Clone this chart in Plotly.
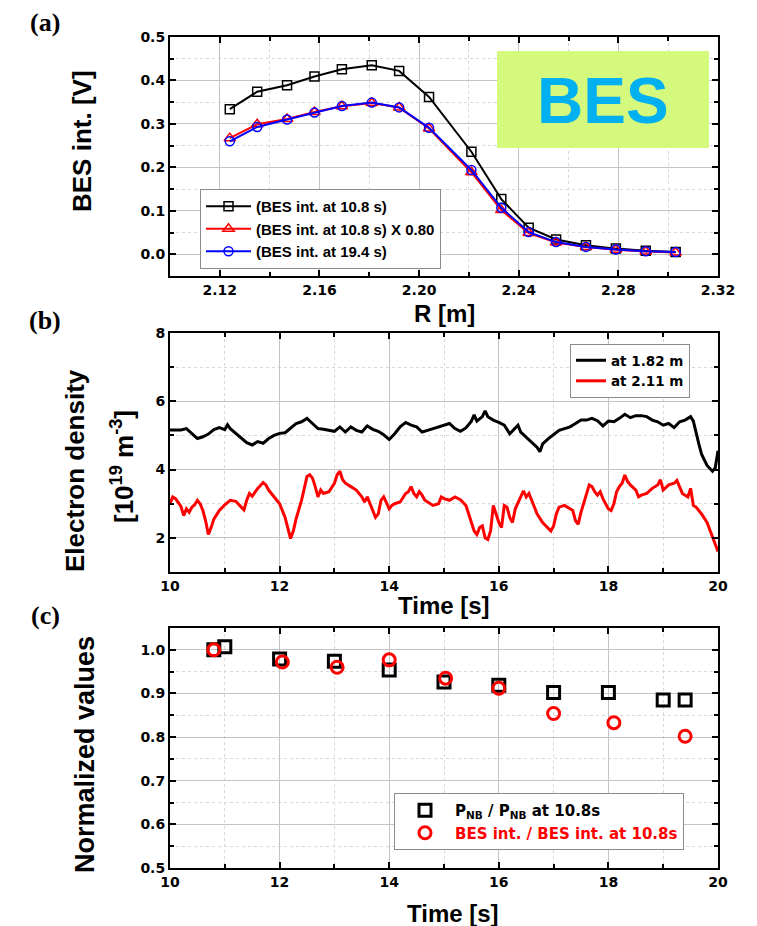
import plotly.graph_objects as go

# ---------------- data ----------------
# (a) radial BES intensity profiles
R_m = [2.124, 2.135, 2.147, 2.158, 2.169, 2.181, 2.192, 2.204,
       2.221, 2.233, 2.244, 2.255, 2.267, 2.279, 2.291, 2.303]
bes_108 = [0.334, 0.374, 0.389, 0.409, 0.426, 0.435, 0.422, 0.362,
           0.236, 0.127, 0.061, 0.034, 0.021, 0.013, 0.008, 0.005]
SCALE_108 = 0.80
bes_108_scaled = [v * SCALE_108 for v in bes_108]
bes_194 = [0.260, 0.293, 0.310, 0.326, 0.341, 0.349, 0.338, 0.291,
           0.194, 0.107, 0.051, 0.028, 0.017, 0.011, 0.007, 0.005]

# (b) electron density time traces
t_182 = [10.0, 10.1, 10.2, 10.3, 10.4, 10.5, 10.6, 10.7, 10.8, 10.9, 11.0, 11.05,
         11.1, 11.2, 11.3, 11.4, 11.5, 11.6, 11.7, 11.8, 11.9, 12.0, 12.1, 12.2,
         12.3, 12.4, 12.5, 12.6, 12.7, 12.8, 12.9, 13.0, 13.1, 13.2, 13.3, 13.4,
         13.5, 13.6, 13.7, 13.8, 13.9, 14.0, 14.1, 14.2, 14.3, 14.4, 14.5, 14.6,
         14.7, 14.8, 14.9, 15.0, 15.1, 15.2, 15.3, 15.4, 15.5, 15.55, 15.6, 15.7,
         15.75, 15.8, 15.9, 16.0, 16.1, 16.2, 16.3, 16.35, 16.4, 16.5, 16.6, 16.7,
         16.75, 16.8, 16.9, 17.0, 17.1, 17.2, 17.3, 17.4, 17.5, 17.6, 17.7, 17.8,
         17.9, 18.0, 18.1, 18.2, 18.3, 18.4, 18.5, 18.6, 18.7, 18.8, 18.9, 19.0,
         19.1, 19.2, 19.3, 19.4, 19.5, 19.55, 19.6, 19.65, 19.7, 19.8, 19.9, 19.95,
         20.0]
ne_182 = [5.16, 5.17, 5.16, 5.20, 5.06, 4.91, 4.96, 5.04, 5.17, 5.23, 5.17, 5.31,
          5.20, 5.06, 4.91, 4.79, 4.72, 4.82, 4.77, 4.91, 5.00, 5.06, 5.08, 5.23,
          5.35, 5.40, 5.50, 5.35, 5.20, 5.18, 5.15, 5.12, 5.25, 5.10, 5.25, 5.15,
          5.10, 5.28, 5.18, 5.12, 5.02, 4.88, 5.05, 5.25, 5.38, 5.30, 5.25, 5.10,
          5.15, 5.20, 5.25, 5.32, 5.35, 5.20, 5.12, 5.22, 5.42, 5.60, 5.42, 5.55,
          5.72, 5.55, 5.45, 5.38, 5.30, 5.05, 5.20, 5.30, 5.10, 4.95, 4.82, 4.65,
          4.52, 4.75, 4.90, 5.02, 5.15, 5.20, 5.25, 5.35, 5.45, 5.45, 5.50, 5.43,
          5.28, 5.42, 5.40, 5.50, 5.62, 5.52, 5.58, 5.58, 5.55, 5.45, 5.40, 5.30,
          5.35, 5.23, 5.40, 5.45, 5.55, 5.42, 5.05, 4.75, 4.45, 4.12, 3.95, 4.05,
          4.55]

t_211 = [10.0, 10.05, 10.1, 10.2, 10.25, 10.3, 10.35, 10.4, 10.45, 10.5, 10.55, 10.6,
         10.65, 10.7, 10.75, 10.8, 10.9, 11.0, 11.1, 11.2, 11.3, 11.35, 11.4, 11.45,
         11.5, 11.6, 11.7, 11.75, 11.8, 11.9, 12.0, 12.1, 12.15, 12.2, 12.25, 12.3,
         12.4, 12.45, 12.5, 12.55, 12.6, 12.65, 12.7, 12.75, 12.8, 12.9, 13.0, 13.05,
         13.1, 13.15, 13.2, 13.3, 13.4, 13.5, 13.55, 13.6, 13.65, 13.7, 13.75, 13.8,
         13.85, 13.9, 13.95, 14.0, 14.05, 14.1, 14.2, 14.3, 14.35, 14.4, 14.45, 14.5,
         14.55, 14.6, 14.65, 14.7, 14.8, 14.9, 14.95, 15.0, 15.1, 15.2, 15.3, 15.4,
         15.45, 15.5, 15.55, 15.6, 15.65, 15.7, 15.75, 15.8, 15.85, 15.9, 15.95, 16.0,
         16.05, 16.1, 16.15, 16.2, 16.25, 16.3, 16.4, 16.45, 16.5, 16.55, 16.6, 16.7,
         16.8, 16.9, 16.95, 17.0, 17.05, 17.1, 17.2, 17.3, 17.35, 17.4, 17.45, 17.5,
         17.55, 17.6, 17.65, 17.7, 17.75, 17.8, 17.85, 17.9, 18.0, 18.05, 18.1, 18.15,
         18.2, 18.25, 18.3, 18.35, 18.4, 18.5, 18.55, 18.6, 18.7, 18.8, 18.9, 18.95,
         19.0, 19.1, 19.2, 19.25, 19.3, 19.35, 19.4, 19.45, 19.5, 19.55, 19.6, 19.7,
         19.8, 19.9, 19.95, 20.0]
ne_211 = [3.00, 3.20, 3.15, 2.92, 2.65, 2.85, 2.75, 2.90, 2.97, 3.10, 3.00, 2.80,
          2.50, 2.10, 2.30, 2.55, 2.80, 2.97, 3.10, 3.07, 2.90, 2.82, 3.10, 3.30,
          3.22, 3.45, 3.62, 3.55, 3.40, 3.20, 3.00, 2.60, 2.25, 1.98, 2.20, 2.55,
          3.10, 3.50, 3.80, 3.85, 3.75, 3.50, 3.20, 3.40, 3.30, 3.35, 3.60, 3.85,
          3.95, 3.70, 3.60, 3.50, 3.40, 3.20, 3.05, 3.20, 3.00, 2.80, 2.60, 2.70,
          3.10, 3.20, 3.00, 2.85, 2.95, 3.00, 3.05, 3.30, 3.35, 3.50, 3.30, 3.20,
          3.35, 3.25, 3.10, 3.05, 2.95, 3.00, 3.20, 3.15, 3.10, 3.20, 3.12, 2.95,
          2.70, 2.50, 2.20, 2.10, 2.30, 2.35, 2.00, 1.95, 2.20, 2.95, 2.70, 2.45,
          2.30, 2.95, 2.90, 2.60, 2.45, 2.85, 3.20, 3.38, 3.20, 3.30, 3.10, 2.70,
          2.45, 2.30, 2.20, 2.35, 2.70, 2.90, 2.95, 2.85, 2.80, 2.50, 2.40, 2.75,
          3.00, 3.25, 3.55, 3.50, 3.35, 3.25, 3.35, 3.15, 2.85, 2.80, 3.00, 3.35,
          3.50, 3.60, 3.84, 3.65, 3.55, 3.40, 3.20, 3.25, 3.30, 3.45, 3.55, 3.70,
          3.40, 3.55, 3.60, 3.68, 3.50, 3.30, 3.25, 3.20, 3.45, 2.95, 2.90, 2.70,
          2.45, 2.05, 1.85, 1.60]

# (c) normalized values
t_pnb = [10.8, 11.0, 12.0, 13.0, 14.0, 15.0, 16.0, 17.0, 18.0, 19.0, 19.4]
pnb_norm = [1.000, 1.007, 0.979, 0.974, 0.954, 0.926, 0.919, 0.902, 0.902, 0.885, 0.885]
t_bes = [10.8, 12.05, 13.05, 14.0, 15.03, 16.0, 17.0, 18.1, 19.4]
bes_norm = [1.000, 0.972, 0.960, 0.977, 0.935, 0.912, 0.854, 0.833, 0.802]

# ---------------- layout helpers ----------------
W, H = 757, 926


def fx(px):
    return px / W


def fy(py):
    return 1 - py / H


TITLE_FAMILY = "Liberation Sans, Arial, sans-serif"
TICK_FONT = dict(family="DejaVu Sans", size=14, color="black", weight="bold")


def axis_style(minor_dtick, **kw):
    d = dict(
        automargin=False,
        showline=True, linecolor="black", linewidth=2, mirror="allticks",
        ticks="inside", ticklen=6, tickwidth=2, tickcolor="black",
        showgrid=True, gridcolor="#c4c4c4", gridwidth=1, zeroline=False,
        tickfont=TICK_FONT,
        minor=dict(dtick=minor_dtick, ticks="inside", ticklen=4, tickwidth=1.5,
                   tickcolor="black", showgrid=True, gridcolor="#d8d8d8",
                   griddash="dot", gridwidth=1),
    )
    d.update(kw)
    return d


fig = go.Figure()

# (a) profiles
fig.add_trace(go.Scatter(
    x=R_m, y=bes_108, mode="lines+markers", name="(BES int. at 10.8 s)",
    line=dict(color="black", width=2),
    marker=dict(symbol="square-open", size=9, color="black", line=dict(width=1.5)),
    xaxis="x", yaxis="y", legend="legend"))
fig.add_trace(go.Scatter(
    x=R_m, y=bes_108_scaled, mode="lines+markers", name="(BES int. at 10.8 s) X 0.80",
    line=dict(color="red", width=2),
    marker=dict(symbol="triangle-up-open", size=10, color="red", line=dict(width=1.5)),
    xaxis="x", yaxis="y", legend="legend"))
fig.add_trace(go.Scatter(
    x=R_m, y=bes_194, mode="lines+markers", name="(BES int. at 19.4 s)",
    line=dict(color="blue", width=2),
    marker=dict(symbol="circle-open", size=9, color="blue", line=dict(width=1.5)),
    xaxis="x", yaxis="y", legend="legend"))

# (b) density traces
fig.add_trace(go.Scatter(
    x=t_182, y=ne_182, mode="lines", name="at 1.82 m",
    line=dict(color="black", width=3),
    xaxis="x2", yaxis="y2", legend="legend2"))
fig.add_trace(go.Scatter(
    x=t_211, y=ne_211, mode="lines", name="at 2.11 m",
    line=dict(color="red", width=3),
    xaxis="x2", yaxis="y2", legend="legend2"))

# (c) normalized values
fig.add_trace(go.Scatter(
    x=t_pnb, y=pnb_norm, mode="markers",
    name="P<sub>NB</sub> / P<sub>NB</sub> at 10.8s",
    marker=dict(symbol="square-open", size=12, color="black", line=dict(width=3)),
    xaxis="x3", yaxis="y3", legend="legend3"))
fig.add_trace(go.Scatter(
    x=t_bes, y=bes_norm, mode="markers",
    name='<span style="color:red">BES int. / BES int. at 10.8s</span>',
    marker=dict(symbol="circle-open", size=12, color="red", line=dict(width=3)),
    xaxis="x3", yaxis="y3", legend="legend3"))

dom_x = [fx(170), fx(718)]

fig.update_layout(
    width=W, height=H, margin=dict(l=0, r=0, t=0, b=0, autoexpand=False),
    paper_bgcolor="white", plot_bgcolor="white",
    xaxis=axis_style(0.02, domain=dom_x, anchor="y", range=[2.10, 2.32],
                     tick0=2.12, dtick=0.04, tickformat=".2f"),
    yaxis=axis_style(0.05, domain=[fy(276), fy(37)], anchor="x", range=[-0.05, 0.5],
                     tick0=0, dtick=0.1, tickformat=".1f"),
    xaxis2=axis_style(1, domain=dom_x, anchor="y2", range=[10, 20], tick0=10, dtick=2),
    yaxis2=axis_style(1, domain=[fy(572), fy(333)], anchor="x2", range=[1, 8],
                      tick0=0, dtick=2),
    xaxis3=axis_style(1, domain=dom_x, anchor="y3", range=[10, 20], tick0=10, dtick=2),
    yaxis3=axis_style(0.05, domain=[fy(868), fy(628)], anchor="x3", range=[0.5, 1.05],
                      tick0=0.5, dtick=0.1, tickformat=".1f"),
    legend=dict(x=fx(200), y=fy(189), xanchor="left", yanchor="top",
                bgcolor="white", bordercolor="#8c8c8c", borderwidth=1,
                font=dict(family=TITLE_FAMILY, size=15, color="black", weight="bold"),
                tracegroupgap=0, itemwidth=45),
    legend2=dict(x=fx(570), y=fy(344), xanchor="left", yanchor="top",
                 bgcolor="white", bordercolor="#8c8c8c", borderwidth=1,
                 font=dict(family="DejaVu Sans", size=13.5, color="black", weight="bold"),
                 tracegroupgap=0),
    legend3=dict(x=fx(394), y=fy(793), xanchor="left", yanchor="top",
                 bgcolor="white", bordercolor="#8c8c8c", borderwidth=1,
                 font=dict(family="DejaVu Sans", size=15, color="black", weight="bold"),
                 tracegroupgap=0, itemwidth=50),
    showlegend=True,
)

# BES label box in panel (a)
fig.add_shape(type="rect", xref="paper", yref="paper",
              x0=fx(497), x1=fx(709), y0=fy(148), y1=fy(51),
              fillcolor="#d5f97c", line=dict(width=0), layer="above")


def note(text, px, py, size, family=TITLE_FAMILY, angle=0, color="black"):
    fig.add_annotation(text=text, x=fx(px), y=fy(py), xref="paper", yref="paper",
                       xanchor="center", yanchor="middle", showarrow=False,
                       textangle=angle,
                       font=dict(family=family, size=size, color=color, weight="bold"))


note("BES", 603, 101, 64, color="#00b0f0")

# axis titles
note("BES int. [V]", 82, 141, 26, angle=-90)
note("R [m]", 444, 313, 24)
note("Electron density", 75, 471, 26, angle=-90)
note("[10<sup>19</sup> m<sup>-3</sup>]", 122, 467, 26, angle=-90)
note("Time [s]", 444, 605, 24)
note("Normalized values", 85, 755, 27, angle=-90)
note("Time [s]", 453, 913, 24)

# panel labels
PANEL_FAMILY = "Liberation Serif, Times New Roman, serif"
note("(a)", 45, 22, 26, family=PANEL_FAMILY)
note("(b)", 45, 320, 26, family=PANEL_FAMILY)
note("(c)", 45, 615, 26, family=PANEL_FAMILY)

fig.write_html("out.html", post_script="document.body.style.margin = '0';")
